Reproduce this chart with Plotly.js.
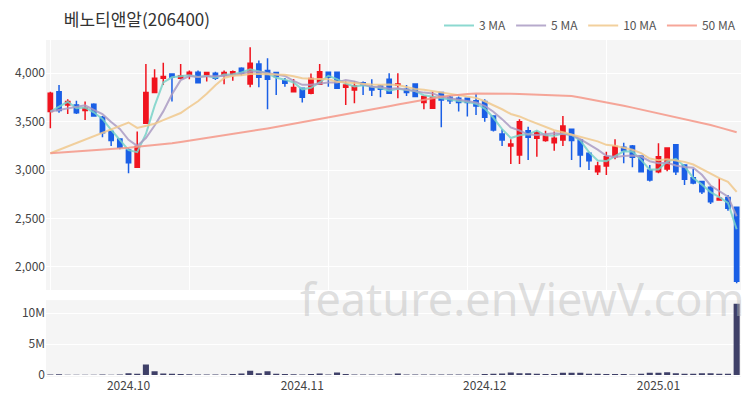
<!DOCTYPE html>
<html>
<head>
<meta charset="utf-8">
<script src="https://cdn.plot.ly/plotly-3.0.1.min.js"></script>
<style>html,body{margin:0;padding:0;background:#fff;}#chart{width:750px;height:400px;}</style>
</head>
<body>
<div id="chart"></div>
<script>
const dates = [
"2024-09-13","2024-09-19","2024-09-20","2024-09-23","2024-09-24","2024-09-25","2024-09-26","2024-09-27","2024-09-30",
"2024-10-02","2024-10-04","2024-10-07","2024-10-08","2024-10-10","2024-10-11","2024-10-14","2024-10-15","2024-10-16","2024-10-17","2024-10-18",
"2024-10-21","2024-10-22","2024-10-23","2024-10-24","2024-10-25","2024-10-28","2024-10-29","2024-10-30","2024-10-31",
"2024-11-01","2024-11-04","2024-11-05","2024-11-06","2024-11-07","2024-11-08","2024-11-11","2024-11-12","2024-11-13","2024-11-14","2024-11-15",
"2024-11-18","2024-11-19","2024-11-20","2024-11-21","2024-11-22","2024-11-25","2024-11-26","2024-11-27","2024-11-28","2024-11-29",
"2024-12-02","2024-12-03","2024-12-04","2024-12-05","2024-12-06","2024-12-09","2024-12-10","2024-12-11","2024-12-12","2024-12-13",
"2024-12-16","2024-12-17","2024-12-18","2024-12-19","2024-12-20","2024-12-23","2024-12-24","2024-12-26","2024-12-27","2024-12-30",
"2025-01-02","2025-01-03","2025-01-06","2025-01-07","2025-01-08","2025-01-09","2025-01-10","2025-01-13","2025-01-14","2025-01-15"];

const openP = [3604,3810,3672,3672,3614,3679,3545,3397,3321,3207,3028,3483,3800,3948,3993,3948,3990,4010,3986,4000,
3983,3990,4052,3890,4097,4028,4007,3924,3810,3845,3793,3886,4010,4010,3855,3828,3903,3862,3869,3938,
3879,3835,3890,3697,3638,3800,3752,3741,3741,3717,3707,3559,3373,3249,3155,3407,3328,3304,3283,3311,
3421,3311,3173,2983,3042,3138,3235,3249,3145,3000,2983,3011,3262,3052,2921,2880,2821,2690,2717,2614];
const highP = [3810,3879,3731,3717,3707,3690,3559,3397,3321,3224,3397,4097,4041,4110,3993,4097,4028,4028,4017,4017,
4028,4028,4062,4269,4131,4155,4007,3952,3941,3845,3997,4097,4010,4010,3914,3914,3914,3938,3879,4000,
4000,3879,3890,3766,3810,3810,3766,3759,3741,3786,3731,3559,3421,3318,3524,3448,3407,3407,3397,3559,
3421,3317,3190,3086,3190,3317,3283,3259,3145,3052,3276,3228,3262,3052,3014,2890,2835,2914,2742,2614];
const lowP = [3431,3593,3579,3579,3517,3552,3338,3249,3214,2966,3020,3476,3793,3879,3707,3938,3938,3896,3914,3931,
3886,3924,3976,3855,3855,3628,3776,3862,3800,3697,3783,3879,3862,3845,3672,3690,3776,3766,3752,3793,
3741,3766,3752,3628,3638,3441,3683,3604,3552,3569,3500,3397,3249,3062,3062,3104,3138,3293,3200,3249,
3104,3028,3000,2948,2948,3111,3069,3028,2973,2880,2966,2986,2948,2845,2852,2752,2649,2683,2580,1830];
const closeP = [3793,3614,3707,3593,3638,3559,3386,3304,3235,3076,3242,3800,3948,3966,3959,3972,4010,3903,4007,3948,
4007,4017,4000,4103,3959,3938,3966,3897,3852,3752,3945,4017,3959,3845,3879,3869,3879,3828,3835,3793,
3890,3800,3759,3759,3752,3724,3717,3697,3697,3662,3545,3414,3311,3269,3500,3338,3386,3352,3328,3455,
3304,3155,3097,3042,3138,3242,3200,3131,2983,2897,3138,3228,2983,2904,2866,2776,2673,2707,2604,1850];

const volume = [0.08,0.12,0.06,0.05,0.05,0.06,0.08,0.06,0.07,0.3,0.2,1.7,0.6,0.25,0.2,0.15,0.12,0.1,0.08,0.08,
0.1,0.15,0.25,0.7,0.3,0.6,0.2,0.15,0.12,0.1,0.15,0.25,0.1,0.4,0.15,0.1,0.08,0.08,0.08,0.1,
0.25,0.1,0.08,0.08,0.08,0.08,0.08,0.08,0.08,0.1,0.15,0.2,0.25,0.4,0.3,0.3,0.2,0.15,0.15,0.35,
0.35,0.35,0.2,0.2,0.15,0.15,0.15,0.1,0.2,0.35,0.35,0.45,0.3,0.2,0.2,0.3,0.3,0.2,0.2,11.5].map(v => v * 1e6);

const ma3 = [3604,null,3705,3638,3646,3597,3528,3416,3308,3205,3184,3373,3663,3905,3958,3966,3980,3962,3973,3953,
3987,3991,4008,4040,4021,4000,3954,3934,3905,3834,3850,3905,3974,3940,3894,3864,3876,3859,3847,3819,
3839,3828,3816,3773,3757,3745,3731,3713,3704,3685,3635,3540,3423,3331,3360,3369,3408,3359,3355,3378,
3362,3305,3185,3098,3092,3141,3193,3191,3105,3004,3006,3088,3116,3038,2918,2849,2772,2719,2661,2387];
const ma5 = [3604,null,null,null,3669,3622,3577,3496,3424,3312,3249,3331,3460,3606,3783,3929,3971,3962,3970,3968,
3975,3976,3996,4015,4017,4003,3993,3973,3922,3881,3882,3893,3905,3904,3929,3914,3886,3860,3858,3841,
3845,3829,3815,3800,3792,3759,3742,3730,3717,3699,3664,3603,3526,3440,3408,3366,3361,3369,3381,3372,
3365,3319,3268,3211,3147,3135,3144,3151,3139,3091,3070,3075,3046,3030,3024,2951,2840,2785,2725,2522];
const ma10 = [3173,null,null,null,null,null,null,null,null,3491,3435,3454,3478,3515,3548,3589,3651,3711,3788,3876,
3952,3974,3979,3993,3993,3989,3985,3984,3969,3949,3943,3943,3939,3913,3905,3898,3889,3883,3881,3885,
3879,3858,3838,3829,3816,3802,3786,3773,3759,3746,3711,3673,3628,3579,3554,3515,3482,3447,3411,3390,
3366,3340,3318,3296,3260,3250,3231,3209,3175,3119,3102,3110,3098,3084,3057,3011,2958,2916,2878,2773];
const ma50 = [3172,3178,3183,3189,3194,3200,3207,3214,3222,3230,3240,3248,3255,3263,3276,3290,3303,3317,3331,3345,
3359,3373,3387,3401,3415,3430,3446,3462,3479,3495,3511,3527,3543,3559,3575,3590,3607,3624,3642,3660,
3677,3694,3711,3728,3745,3757,3769,3780,3786,3790,3791,3791,3790,3788,3786,3783,3780,3777,3772,3768,
3765,3750,3734,3717,3700,3683,3665,3645,3625,3607,3589,3570,3551,3531,3510,3488,3465,3441,3416,3390];

const monthTickVals = ["2024-10-02","2024-11-01","2024-12-02","2025-01-02"];
const monthTickText = ["2024.10","2024.11","2024.12","2025.01"];
const gridTickVals = [dates[0], dates[16], dates[32], dates[48], dates[64]];

const font = "'Noto Sans CJK KR', 'Noto Sans', sans-serif";

const traces = [
  {type:'candlestick', x:dates, open:openP, high:highP, low:lowP, close:closeP,
   xaxis:'x', yaxis:'y', showlegend:false, hoverinfo:'skip',
   increasing:{line:{color:'#f0141e', width:1.5}, fillcolor:'#f0141e'},
   decreasing:{line:{color:'#1a5fe6', width:1.5}, fillcolor:'#1a5fe6'},
   whiskerwidth:0},
  {type:'scatter', mode:'lines', x:dates, y:ma3, name:'3 MA', connectgaps:true,
   line:{color:'rgba(120,210,200,0.85)', width:2}, xaxis:'x', yaxis:'y'},
  {type:'scatter', mode:'lines', x:dates, y:ma5, name:'5 MA', connectgaps:true,
   line:{color:'rgba(170,155,195,0.85)', width:2}, xaxis:'x', yaxis:'y'},
  {type:'scatter', mode:'lines', x:dates, y:ma10, name:'10 MA', connectgaps:true,
   line:{color:'rgba(240,200,140,0.85)', width:2}, xaxis:'x', yaxis:'y'},
  {type:'scatter', mode:'lines', x:dates, y:ma50, name:'50 MA', connectgaps:true,
   line:{color:'rgba(245,150,135,0.85)', width:2}, xaxis:'x', yaxis:'y'},
  {type:'bar', x:dates, y:volume, xaxis:'x2', yaxis:'y2', showlegend:false,
   marker:{color:'#3f4068'}, width:0.7, hoverinfo:'skip'}
];

const layout = {
  width:750, height:400,
  margin:{l:46, r:9, t:40, b:23},
  paper_bgcolor:'#ffffff',
  plot_bgcolor:'#f5f5f5',
  font:{family:font, size:12, color:'#444'},
  title:{text:'베노티앤알(206400)', x:0.085, xanchor:'left', xref:'container',
         y:0.95, yanchor:'middle', yref:'container',
         font:{family:font, size:17, color:'#333'}},
  showlegend:true,
  legend:{orientation:'h', x:1, xanchor:'right', y:1.0, yanchor:'bottom',
          font:{family:font, size:12, color:'#555'}, bgcolor:'rgba(0,0,0,0)'},
  xaxis:{type:'category', domain:[0,1], anchor:'y', range:[-0.5,79.5],
         rangeslider:{visible:false}, showticklabels:false,
         tickmode:'array', tickvals:gridTickVals, ticks:'',
         showgrid:true, gridcolor:'#ffffff', gridwidth:1, zeroline:false, showline:false},
  yaxis:{domain:[0.258,1], range:[1759,4344], tickformat:',', tickvals:[2000,2500,3000,3500,4000],
         showgrid:true, gridcolor:'#ffffff', gridwidth:1, zeroline:false, ticks:'',
         tickfont:{family:font, size:12, color:'#444'}},
  xaxis2:{type:'category', domain:[0,1], anchor:'y2', range:[-0.5,79.5],
          tickmode:'array', tickvals:monthTickVals, ticktext:monthTickText, ticks:'',
          showgrid:false, zeroline:false, showline:false,
          tickfont:{family:font, size:12, color:'#444'}},
  yaxis2:{domain:[0,0.228], range:[-320000,12100000], tickvals:[0,5e6,1e7], ticktext:['0','5M','10M'],
          showgrid:true, gridcolor:'#ffffff', gridwidth:1, zeroline:false, ticks:'',
          tickfont:{family:font, size:12, color:'#444'}},
  annotations:[{text:'feature.enViewV.com', xref:'paper', yref:'paper', x:0.685, y:0.232,
                xanchor:'center', yanchor:'middle', showarrow:false,
                font:{family:"'Noto Sans', sans-serif", size:45, color:'rgba(185,185,185,0.45)'}}],
  bargap:0.3
};

Plotly.newPlot('chart', traces, layout, {displayModeBar:false, staticPlot:true});
</script>
</body>
</html>
